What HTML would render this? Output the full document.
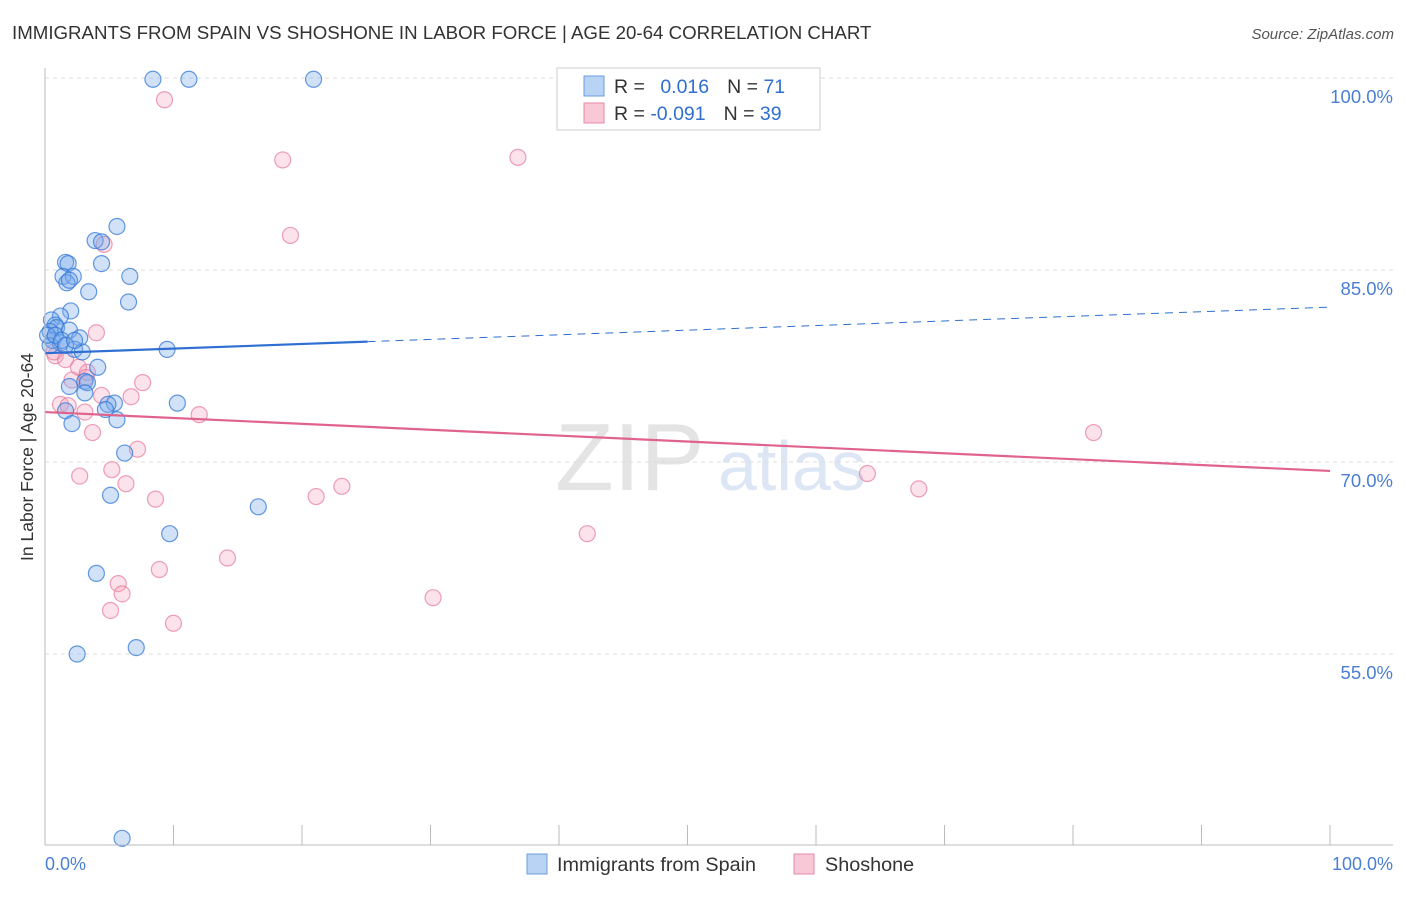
<!DOCTYPE html>
<html><head><meta charset="utf-8"><style>
body{margin:0;background:#fff;font-family:"Liberation Sans",sans-serif}
svg text{font-family:"Liberation Sans",sans-serif}
</style></head><body>
<svg id="c" width="1406" height="892" xmlns="http://www.w3.org/2000/svg">
<text x="12" y="39" font-size="18.7" fill="#333">IMMIGRANTS FROM SPAIN VS SHOSHONE IN LABOR FORCE | AGE 20-64 CORRELATION CHART</text>
<text x="1394" y="39" font-size="15" fill="#555" text-anchor="end" font-style="italic">Source: ZipAtlas.com</text>
<text x="555" y="490" font-size="96" fill="#e4e4e4" font-family="Liberation Serif">ZIP</text>
<text x="718" y="490" font-size="70" fill="#dce6f4">atlas</text>
<g id="grid"></g><g id="pts"></g><g id="lines"></g>
<line x1="45" y1="68" x2="45" y2="845" stroke="#bbb"/>
<line x1="45" y1="845" x2="1393" y2="845" stroke="#bbb"/>
<text transform="translate(33,457) rotate(-90)" font-size="17.5" fill="#333" text-anchor="middle">In Labor Force | Age 20-64</text>
<text x="45" y="870" font-size="18" fill="#4a7fd4">0.0%</text>
<text x="1393" y="870" font-size="18" fill="#4a7fd4" text-anchor="end">100.0%</text>
<g>
<rect x="557" y="68" width="263" height="62" fill="#fff" stroke="#ccc"/>
<rect x="584" y="76" width="20" height="20" fill="#b9d3f5" stroke="#6a9de0"/>
<rect x="584" y="103" width="20" height="20" fill="#f9c8d6" stroke="#e58aa8"/>
<text x="614" y="93" font-size="19.5" fill="#333">R = <tspan fill="#2f6fd1" dx="10">0.016</tspan><tspan dx="18" fill="#333">N = </tspan><tspan fill="#2f6fd1">71</tspan></text>
<text x="614" y="120" font-size="19.5" fill="#333">R = <tspan fill="#2f6fd1">-0.091</tspan><tspan dx="18" fill="#333">N = </tspan><tspan fill="#2f6fd1">39</tspan></text>
</g>
<g><rect x="527" y="854" width="20" height="20" fill="#b9d3f5" stroke="#6a9de0"/><text x="557" y="871" font-size="19.8" fill="#333">Immigrants from Spain</text></g>
<g><rect x="794" y="854" width="20" height="20" fill="#f9c8d6" stroke="#e58aa8"/><text x="825" y="871" font-size="19.8" fill="#333">Shoshone</text></g>
</svg>
<script>
const yTicks=[100,85,70,55];
const yTickLabels=["100.0%","85.0%","70.0%","55.0%"];
const xTicks=[0,10,20,30,40,50,60,70,80,90,100];
const blueX=[8.4,11.2,20.9,5.6,3.9,4.4,1.6,1.8,4.4,1.4,2.2,1.7,1.9,6.6,3.4,6.5,2.0,1.2,0.5,0.8,0.9,1.9,0.4,2.7,0.6,1.2,2.3,2.9,9.5,4.1,3.1,1.9,3.3,3.1,5.4,4.9,10.3,4.7,1.6,5.6,2.1,6.2,5.1,16.6,9.7,4.0,2.5,7.1,6.0,0.4,0.2,0.8,1.3,1.6,2.3];
const blueY=[99.9,99.9,99.9,88.4,87.3,87.2,85.6,85.5,85.5,84.5,84.5,84.0,84.2,84.5,83.3,82.5,81.8,81.4,81.1,80.7,80.5,80.3,80.2,79.7,79.5,79.3,78.8,78.6,78.8,77.4,76.3,75.9,76.2,75.4,74.6,74.5,74.6,74.1,74.0,73.3,73.0,70.7,67.4,66.5,64.4,61.3,55.0,55.5,40.6,79.1,79.9,79.9,79.5,79.1,79.5];
const pinkX=[9.3,18.5,36.8,19.1,4.6,4.0,0.8,1.6,0.7,2.6,3.3,3.2,2.1,7.6,4.4,6.7,1.2,1.8,12.0,3.7,7.2,5.2,2.7,6.3,8.6,21.1,23.1,14.2,8.9,5.7,6.0,5.1,10.0,30.2,42.2,81.6,64.0,68.0,3.1];
const pinkY=[98.3,93.6,93.8,87.7,87.0,80.1,78.3,78.0,78.6,77.4,77.0,76.6,76.4,76.2,75.2,75.1,74.5,74.4,73.7,72.3,71.0,69.4,68.9,68.3,67.1,67.3,68.1,62.5,61.6,60.5,59.7,58.4,57.4,59.4,64.4,72.3,69.1,67.9,73.9];
const blueTrend=[78.5,82.1];
const pinkTrend=[73.9,69.3];
const NS="http://www.w3.org/2000/svg";
const sx=v=>45+v*12.85, sy=v=>78+(100-v)*12.8;
function mk(t,a,p){const e=document.createElementNS(NS,t);for(const k in a)e.setAttribute(k,a[k]);document.getElementById(p).appendChild(e);return e;}
yTicks.forEach((t,i)=>{
 const g=mk('line',{x1:45,x2:1393,y1:sy(t),y2:sy(t),stroke:'#ddd','stroke-dasharray':'4,4'},'grid');
 
 
 const l=mk('text',{x:1393,y:sy(t)+25,'font-size':18.5,fill:'#4a7fd4','text-anchor':'end'},'grid');
 l.textContent=yTickLabels[i];
 
 
});
xTicks.forEach(t=>{
 const k=mk('line',{x1:sx(t),x2:sx(t),y1:825,y2:845,stroke:'#bbb'},'grid');
 
 
});
pinkX.forEach((x,i)=>{
 const c=mk('circle',{cx:sx(x),cy:sy(pinkY[i]),r:8,fill:'rgba(244,160,186,0.3)',stroke:'rgba(230,120,155,0.7)','stroke-width':1.2},'pts');
 
 
});
blueX.forEach((x,i)=>{
 const c=mk('circle',{cx:sx(x),cy:sy(blueY[i]),r:8,fill:'rgba(120,170,235,0.35)',stroke:'rgba(50,120,215,0.75)','stroke-width':1.2},'pts');
 
 
});
const by=x=>blueTrend[0]+(blueTrend[1]-blueTrend[0])*x/100;
let b1=mk('line',{x1:sx(0),y1:sy(by(0)),x2:sx(25.1),y2:sy(by(25.1)),stroke:'#2f6fd1','stroke-width':2.2},'lines');


let b2=mk('line',{x1:sx(25.1),y1:sy(by(25.1)),x2:sx(100),y2:sy(by(100)),stroke:'#2f6fd1','stroke-width':1,'stroke-dasharray':'8,6'},'lines');


let p1=mk('line',{x1:sx(0),y1:sy(pinkTrend[0]),x2:sx(100),y2:sy(pinkTrend[1]),stroke:'#e0638e','stroke-width':2.2},'lines');


</script>
</body></html>
